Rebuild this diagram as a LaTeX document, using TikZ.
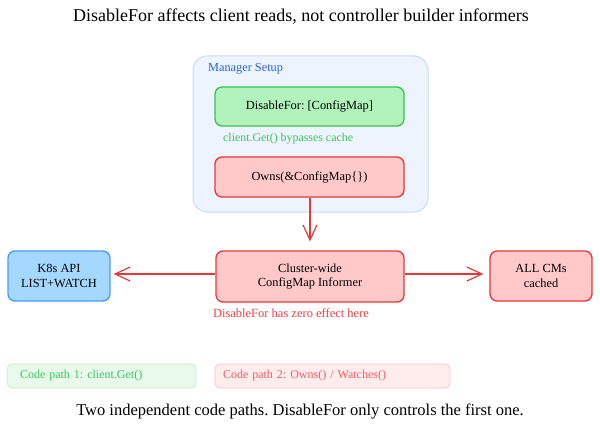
\documentclass[tikz,border=0pt]{standalone}
\usepackage{fontspec}
\setmainfont{Liberation Serif}
\usetikzlibrary{arrows.meta}
\frenchspacing
\definecolor{redS}{HTML}{E5383B}
\definecolor{redF}{HTML}{FFC9C9}
\definecolor{grnS}{HTML}{37C25A}
\definecolor{grnF}{HTML}{B2F2BB}
\definecolor{bluS}{HTML}{4A9EED}
\definecolor{bluF}{HTML}{A5D8FF}
\definecolor{contF}{HTML}{EEF4FD}
\definecolor{contS}{HTML}{C9DCF5}
\definecolor{mgrT}{HTML}{2B63D9}
\definecolor{grnT}{HTML}{3BC460}
\definecolor{redT}{HTML}{E8434A}
\definecolor{cp1F}{HTML}{E9FAEC}
\definecolor{cp1S}{HTML}{BDEFC6}
\definecolor{cp2F}{HTML}{FFEDED}
\definecolor{cp2S}{HTML}{FFC4C4}
\tikzset{
  box/.style={draw, rounded corners=7pt, line width=1.3pt, align=center, inner sep=0pt, font=\fontsize{12.4}{14.5}\selectfont},
  redbox/.style={box, draw=redS, fill=redF},
  grnbox/.style={box, draw=grnS, fill=grnF},
  blubox/.style={box, draw=bluS, fill=bluF},
  conn/.style={redS, line width=1.2pt, -{Straight Barb[length=15pt,width=14pt,line width=1.2pt]}},
  small/.style={font=\fontsize{11.9}{13}\selectfont, inner sep=0pt},
  cpbox/.style={line width=0.8pt, rounded corners=5pt, minimum height=24pt, inner ysep=0pt, font=\fontsize{12}{14}\selectfont, align=left},
}
\begin{document}
\begin{tikzpicture}[x=1pt,y=-1pt]
\useasboundingbox (0,0) rectangle (600,433);
\node[font=\fontsize{18}{21}\selectfont] (title) at (301,17) {DisableFor affects client reads, not controller builder informers};
% container
\draw[draw=contS, fill=contF, line width=1pt, rounded corners=14pt] (193,56) rectangle (428,212);
\node[small, text=mgrT, anchor=west, font=\fontsize{12.3}{14}\selectfont] (mgr) at (208,69) {Manager Setup};
\node[grnbox, minimum width=189pt, minimum height=39pt] (dis) at (309.5,106.5) {DisableFor: [ConfigMap]};
\node[small, text=grnT, anchor=west] (bypass) at (223,139) {client.Get() bypasses cache};
\node[redbox, minimum width=189pt, minimum height=40pt] (owns) at (309.5,177) {Owns(\&ConfigMap\{\})};
\node[redbox, minimum width=188pt, minimum height=51pt] (inf) at (310,276.5) {Cluster-wide\\ConfigMap Informer};
\node[blubox, minimum width=102pt, minimum height=50pt] (k8s) at (59,276) {K8s API\\LIST+WATCH};
\node[redbox, minimum width=102pt, minimum height=50pt] (all) at (541,276) {ALL CMs\\cached};
\draw[conn, shorten >=9pt] (owns.south -| 310,0) -- (inf.north -| 310,0);
\draw[conn, shorten >=3pt] (inf.west |- 0,274) -- (k8s.east |- 0,274);
\draw[conn, shorten >=6pt] (inf.east |- 0,274) -- (all.west |- 0,274);
\node[small, text=redT, font=\fontsize{12.5}{14}\selectfont] (zero) at (291,313) {DisableFor has zero effect here};
\node[cpbox, draw=cp1S, fill=cp1F, text=grnT, inner xsep=13pt, text width=163pt] (cp1) at (101.5,376) {Code path 1: client.Get()};
\node[cpbox, draw=cp2S, fill=cp2F, text=redT!85, inner xsep=8pt, text width=219pt] (cp2) at (332.5,376) {Code path 2: Owns() / Watches()};
\node[font=\fontsize{16.5}{19}\selectfont] (foot) at (300,411) {Two independent code paths. DisableFor only controls the first one.};
\end{tikzpicture}
\end{document}
